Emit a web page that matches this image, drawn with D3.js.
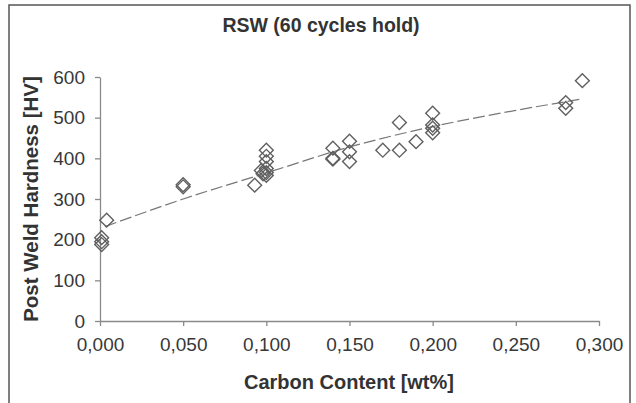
<!DOCTYPE html>
<html>
<head>
<meta charset="utf-8">
<script src="https://cdn.jsdelivr.net/npm/d3@7"></script>
<style>
  body { margin: 0; background: #fff; }
  svg { display: block; font-family: "Liberation Sans", Arial, sans-serif; }
</style>
</head>
<body>
<svg id="chart"></svg>
<script>
const carbon   = [0.001, 0.001, 0.001, 0.004, 0.05, 0.05, 0.093, 0.097, 0.098, 0.1, 0.1, 0.1, 0.1, 0.1, 0.1,
                  0.14, 0.14, 0.14, 0.15, 0.15, 0.15, 0.17, 0.18, 0.18, 0.19, 0.2, 0.2, 0.2, 0.2, 0.28, 0.28, 0.29];
const hardness = [205, 195, 188, 248, 335, 330, 334, 370, 362, 420, 405, 392, 375, 365, 358,
                  425, 400, 398, 442, 416, 392, 420, 488, 420, 441, 511, 482, 474, 463, 537, 523, 591];

// trend line
const trendX = [0.003, 0.05, 0.1, 0.15, 0.2, 0.25, 0.29];
const trendY = [232, 300, 364, 428, 478, 518, 546];

const xTicks = [0, 0.05, 0.1, 0.15, 0.2, 0.25, 0.3];
const yTicks = [0, 100, 200, 300, 400, 500, 600];

const W = 636, H = 403;
const svg = d3.select('#chart').attr('width', W).attr('height', H);

svg.append('rect')
  .attr('x', 9).attr('y', 5).attr('width', 621).attr('height', 420)
  .attr('fill', '#fff').attr('stroke', '#555').attr('stroke-width', 1.5);

const x = d3.scaleLinear().domain([0, 0.3]).range([100, 599]);
const y = d3.scaleLinear().domain([0, 600]).range([321, 77]);

const fmt = d => d3.format('.3f')(d).replace('.', ',');

const xAxis = svg.append('g')
  .attr('transform', `translate(0,${y(0)})`)
  .call(d3.axisBottom(x).tickValues(xTicks).tickFormat(fmt).tickSize(5).tickSizeOuter(0).tickPadding(12));
const yAxis = svg.append('g')
  .attr('transform', `translate(${x(0)},0)`)
  .call(d3.axisLeft(y).tickValues(yTicks).tickSize(5).tickSizeOuter(0).tickPadding(10));

[xAxis, yAxis].forEach(g => {
  g.select('.domain').attr('stroke', '#8a8a8a').attr('stroke-width', 1.3);
  g.selectAll('.tick line').attr('stroke', '#8a8a8a').attr('stroke-width', 1.3);
  g.selectAll('.tick text').attr('fill', '#383838').style('font-size', '19px')
    .style('font-family', '"Liberation Sans", Arial, sans-serif');
});

const line = d3.line().x(d => x(d[0])).y(d => y(d[1])).curve(d3.curveMonotoneX);
svg.append('path')
  .datum(trendX.map((d, i) => [d, trendY[i]]))
  .attr('d', line)
  .attr('fill', 'none')
  .attr('stroke', '#777')
  .attr('stroke-width', 1.2)
  .attr('stroke-dasharray', '12,4');

const diamond = d3.symbol().type(d3.symbolSquare).size(96);
svg.selectAll('.pt')
  .data(carbon.map((d, i) => [d, hardness[i]]))
  .join('path')
    .attr('class', 'pt')
    .attr('d', diamond)
    .attr('transform', d => `translate(${x(d[0])},${y(d[1])}) rotate(45)`)
    .attr('fill', 'none')
    .attr('stroke', '#606060')
    .attr('stroke-width', 1.4);

svg.append('text')
  .attr('x', 321).attr('y', 32)
  .attr('text-anchor', 'middle')
  .attr('font-weight', 'bold').attr('font-size', 19.5).attr('fill', '#333')
  .text('RSW (60 cycles hold)');

svg.append('text')
  .attr('x', 349).attr('y', 389)
  .attr('text-anchor', 'middle')
  .attr('font-weight', 'bold').attr('font-size', 20).attr('fill', '#333')
  .text('Carbon Content [wt%]');

svg.append('text')
  .attr('transform', `translate(38,${(y(0) + y(600)) / 2}) rotate(-90)`)
  .attr('text-anchor', 'middle')
  .attr('font-weight', 'bold').attr('font-size', 20.5).attr('fill', '#333')
  .text('Post Weld Hardness [HV]');
</script>
</body>
</html>
